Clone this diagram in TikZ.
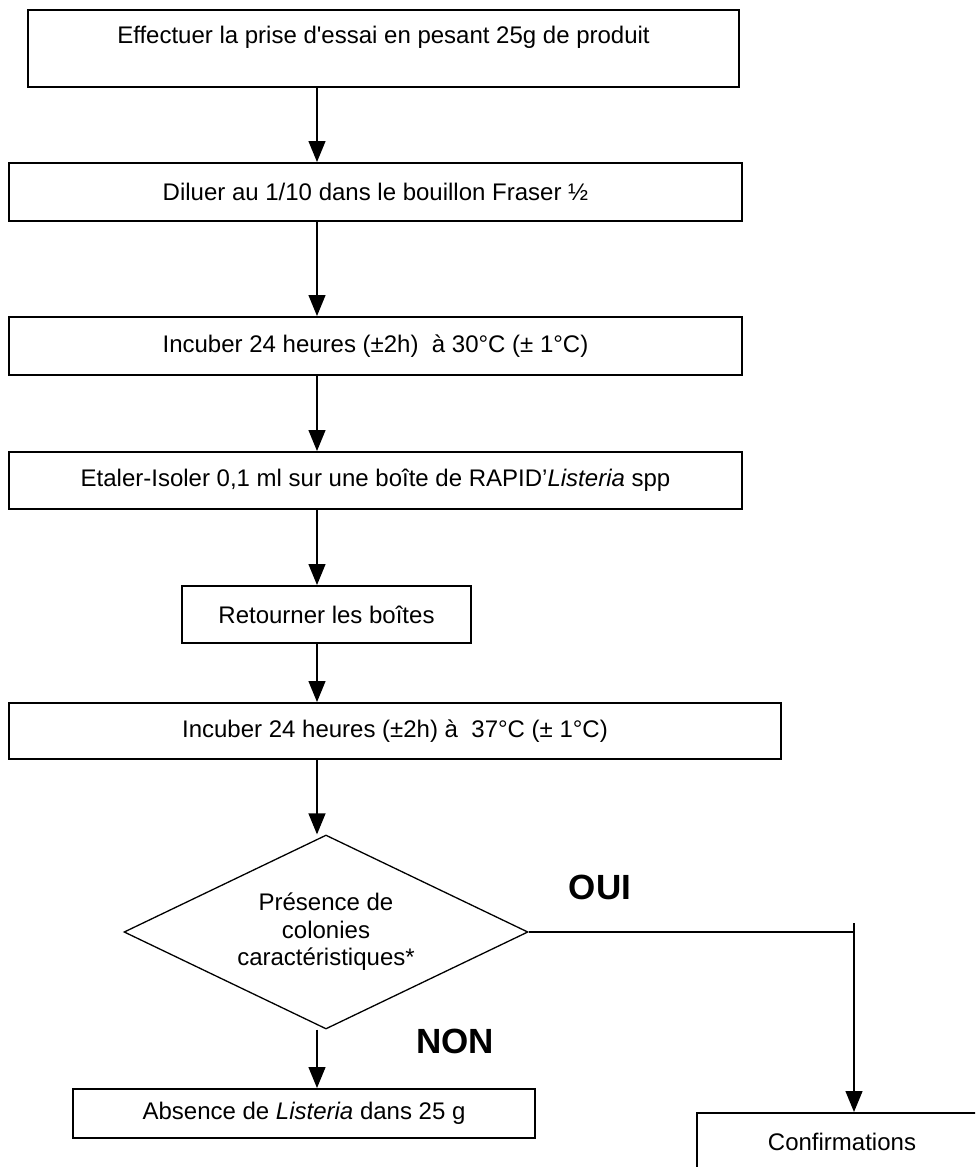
\documentclass[tikz,border=0pt]{standalone}
\usepackage{fontspec}
\setmainfont{Liberation Sans}[Ligatures=TeXOff]
\usepackage{tikz}
\usetikzlibrary{arrows.meta, positioning, shapes.geometric, calc}

\begin{document}
\begin{tikzpicture}[x=1pt, y=-1pt,
    every node/.style={font=\fontsize{24}{27.5}\selectfont},
    etape/.style={draw, line width=2pt, inner sep=0pt},
    fleche/.style={-{Triangle[length=21pt,width=17pt]}, line width=1.3pt},
    reponse/.style={font=\fontsize{35}{35}\selectfont\bfseries}]
    \clip (0,0) rectangle (975,1167);
    \coordinate (axe) at (317,0);

    \node[etape, minimum width=711pt, text height=33pt, text depth=44pt] (prise) at (383.5,48.5) {Effectuer la prise d'essai en pesant 25g de produit};
    \node[etape, minimum width=733pt, minimum height=58pt] (diluer) at (375.5,192) {Diluer au 1/10 dans le bouillon Fraser ½};
    \node[etape, minimum width=733pt, minimum height=58pt] (incub30) at (375.5,346) {Incuber 24 heures (±2h)\ \ à 30°C (± 1°C)};
    \node[etape, minimum width=733pt, minimum height=57pt] (etaler) at (375.5,480.5) {Etaler-Isoler 0,1 ml sur une boîte de RAPID’\textit{Listeria} spp};
    \node[etape, minimum width=289pt, minimum height=57pt] (retour) at (326.5,614.5) {Retourner les boîtes};
    \node[etape, minimum width=772pt, minimum height=56pt] (incub37) at (395,731) {Incuber 24 heures (±2h) à\ \ 37°C (± 1°C)};
    \node[diamond, draw, line width=1.3pt, minimum width=404pt, minimum height=194pt, aspect=2.08, align=center, inner sep=0pt] (colonies) at (326,932) {Présence de\\colonies\\caractéristiques*};
    \node[etape, minimum width=462pt, minimum height=49pt] (absence) at (304,1113.5) {Absence de \textit{Listeria} dans 25 g};
    \node[etape, minimum width=290pt, text height=37pt, text depth=35pt] (confirm) at (842,1149) {Confirmations};

    \draw[fleche] (prise.south -| axe) -- (diluer.north -| axe);
    \draw[fleche] (diluer.south -| axe) -- (incub30.north -| axe);
    \draw[fleche] (incub30.south -| axe) -- (etaler.north -| axe);
    \draw[fleche] (etaler.south -| axe) -- (retour.north -| axe);
    \draw[fleche] (retour.south -| axe) -- (incub37.north -| axe);
    \draw[fleche] (incub37.south -| axe) -- (colonies.north -| axe);
    \draw[fleche] (colonies.south -| axe) -- (absence.north -| axe);

    % Reponses
    \coordinate (coude) at (854,932);
    \draw[line width=1.3pt] (colonies.east) -- (coude);
    \draw[fleche] ([yshift=9pt]coude) -- (coude |- confirm.north);
    \node[reponse] (oui) at (600,887) {OUI};
    \node[reponse] (non) at (455,1041) {NON};
\end{tikzpicture}
\end{document}
